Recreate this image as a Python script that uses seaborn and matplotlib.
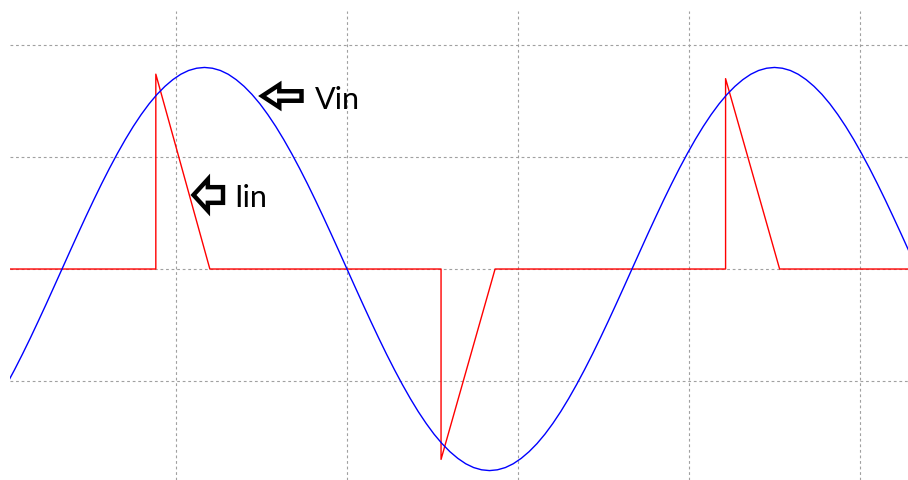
import matplotlib
matplotlib.use("Agg")
import matplotlib.pyplot as plt
from matplotlib.patches import FancyArrow
import pandas as pd
import seaborn as sb

# input voltage Vin (time in ms, amplitude in divisions)
vin_t = [-0.185, 0.046, 0.278, 0.509, 0.741, 0.972, 1.204, 1.435,
         1.667, 1.898, 2.130, 2.361, 2.593, 2.824, 3.056, 3.287, 3.519, 3.750,
         3.981, 4.213, 4.444, 4.676, 4.907, 5.139, 5.370, 5.602, 5.833, 6.065,
         6.296, 6.528, 6.759, 6.991, 7.222, 7.454, 7.685, 7.917, 8.148, 8.380,
         8.611, 8.843, 9.074, 9.306, 9.537, 9.769, 10.000, 10.231, 10.463, 10.694,
         10.926, 11.157, 11.389, 11.620, 11.852, 12.083, 12.315, 12.546, 12.778, 13.009,
         13.241, 13.472, 13.704, 13.935, 14.167, 14.398, 14.630, 14.861, 15.093, 15.324,
         15.556, 15.787, 16.019, 16.250, 16.481, 16.713, 16.944, 17.176, 17.407, 17.639,
         17.870, 18.102, 18.333, 18.565, 18.796, 19.028, 19.259, 19.491, 19.722, 19.954,
         20.185, 20.417, 20.648, 20.880, 21.111, 21.343, 21.574, 21.806, 22.037, 22.269,
         22.500, 22.731, 22.963, 23.194, 23.426, 23.657, 23.889, 24.120, 24.352, 24.583,
         24.815, 25.046, 25.278, 25.509, 25.741, 25.972, 26.204, 26.435, 26.667]
vin_v = [-1.157, -1.032, -0.900, -0.761, -0.616, -0.466, -0.313, -0.157,
         0.000, 0.157, 0.313, 0.466, 0.616, 0.761, 0.900, 1.032, 1.157, 1.273,
         1.379, 1.475, 1.559, 1.631, 1.691, 1.739, 1.773, 1.793, 1.800, 1.793,
         1.773, 1.739, 1.691, 1.631, 1.559, 1.475, 1.379, 1.273, 1.157, 1.032,
         0.900, 0.761, 0.616, 0.466, 0.313, 0.157, 0.000, -0.157, -0.313, -0.466,
         -0.616, -0.761, -0.900, -1.032, -1.157, -1.273, -1.379, -1.475, -1.559, -1.631,
         -1.691, -1.739, -1.773, -1.793, -1.800, -1.793, -1.773, -1.739, -1.691, -1.631,
         -1.559, -1.475, -1.379, -1.273, -1.157, -1.032, -0.900, -0.761, -0.616, -0.466,
         -0.313, -0.157, 0.000, 0.157, 0.313, 0.466, 0.616, 0.761, 0.900, 1.032,
         1.157, 1.273, 1.379, 1.475, 1.559, 1.631, 1.691, 1.739, 1.773, 1.793,
         1.800, 1.793, 1.773, 1.739, 1.691, 1.631, 1.559, 1.475, 1.379, 1.273,
         1.157, 1.032, 0.900, 0.761, 0.616, 0.466, 0.313, 0.157, 0.000]

# input current Iin: short pulses near the voltage peaks
iin_t = [0.0, 4.41, 4.41, 5.99, 12.75, 12.75, 14.33, 21.07, 21.07, 22.65, 26.7]
iin_v = [0.0, 0.0, 1.74, 0.0, 0.0, -1.70, 0.0, 0.0, 1.70, 0.0, 0.0]

grid_t = [5, 10, 15, 20, 25]
grid_v = [-1, 0, 1, 2]

vin_df = pd.DataFrame({"t": vin_t, "v": vin_v})
iin_df = pd.DataFrame({"t": iin_t, "v": iin_v})

sb.set_style("white")
plt.rcParams["font.family"] = ["Lato", "DejaVu Sans"]

fig = plt.figure(figsize=(9.08, 4.81), dpi=100)
ax = fig.add_axes([10 / 908, 0, 898 / 908, 1 - 12 / 481])

sb.lineplot(data=iin_df, x="t", y="v", ax=ax, color="#ff0000", lw=1.0,
            sort=False, estimator=None)
sb.lineplot(data=vin_df, x="t", y="v", ax=ax, color="#0000ff", lw=1.0,
            sort=False, estimator=None)

ax.set_xlim(0.146, 26.404)
ax.set_ylim(-1.884, 2.304)
ax.set_xticks(grid_t)
ax.set_yticks(grid_v)
ax.grid(True, color="#a0a0a0", lw=0.8, linestyle=(0, (2.5, 2.5)))
ax.set_axisbelow(True)
ax.tick_params(length=0, labelbottom=False, labelleft=False)
ax.set_xlabel("")
ax.set_ylabel("")
for s in ax.spines.values():
    s.set_visible(False)

# hollow arrows with labels
ax.add_patch(FancyArrow(8.67, 1.545, -1.150, 0, width=0.085, head_width=0.20,
                        head_length=0.50, length_includes_head=True,
                        fc="white", ec="black", lw=3.2, joinstyle="miter", zorder=5))
ax.text(9.05, 1.44, "Vin", fontsize=22, ha="left", va="baseline", color="black")

ax.add_patch(FancyArrow(6.374, 0.661, -0.863, 0, width=0.14, head_width=0.28,
                        head_length=0.42, length_includes_head=True,
                        fc="white", ec="black", lw=3.2, joinstyle="miter", zorder=5))
ax.text(6.71, 0.56, "Iin", fontsize=22, ha="left", va="baseline", color="black")

plt.savefig("out.png", dpi=100)
